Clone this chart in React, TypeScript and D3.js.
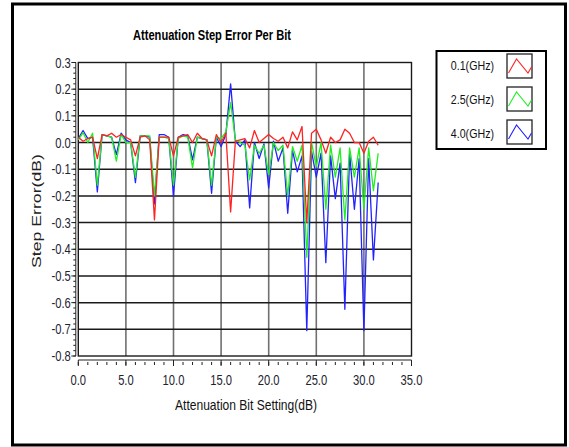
import React from 'react';
import * as d3 from 'd3';

// Attenuation settings (dB) in 0.5 dB steps
const settings = [
  0, 0.5, 1, 1.5, 2, 2.5, 3, 3.5, 4, 4.5, 5, 5.5, 6, 6.5, 7, 7.5,
  8, 8.5, 9, 9.5, 10, 10.5, 11, 11.5, 12, 12.5, 13, 13.5, 14, 14.5, 15, 15.5,
  16, 16.5, 17, 17.5, 18, 18.5, 19, 19.5, 20, 20.5, 21, 21.5, 22, 22.5, 23, 23.5,
  24, 24.5, 25, 25.5, 26, 26.5, 27, 27.5, 28, 28.5, 29, 29.5, 30, 30.5, 31, 31.5,
];

// Step error (dB) at 0.1 GHz
const err01 = [
  0.02, 0.005, 0.015, 0.02, -0.06, 0.03, 0.025, 0.035, 0.02, 0.03, 0.02, 0.01, -0.05, 0.02, 0.025, 0.01,
  -0.29, 0.02, 0.02, 0.02, -0.05, 0.02, 0.025, 0.03, 0.0, 0.035, 0.015, 0.01, -0.05, 0.03, 0.0, 0.035,
  -0.26, 0.005, 0.01, 0.015, -0.02, 0.045, 0.0, 0.015, 0.03, 0.015, 0.005, 0.02, -0.02, 0.04, 0.01, 0.06,
  -0.3, 0.035, 0.05, 0.01, -0.04, 0.02, 0.0, 0.01, 0.05, 0.035, 0.0, 0.0, -0.04, 0.005, 0.02, -0.01,
];

// Step error (dB) at 2.5 GHz
const err25 = [
  0.01, 0.037, 0.0, 0.035, -0.16, 0.03, 0.025, 0.02, -0.07, 0.03, 0.0, 0.0, -0.13, 0.025, 0.025, 0.025,
  -0.2, 0.02, 0.02, 0.015, -0.16, 0.015, 0.025, 0.02, -0.095, 0.02, 0.015, 0.01, -0.16, 0.02, 0.015, 0.04,
  0.15, 0.01, 0.0, -0.01, -0.14, -0.01, -0.04, -0.01, -0.12, 0.0, -0.03, -0.01, -0.2, -0.015, -0.07, -0.01,
  -0.43, 0.0, -0.09, 0.0, -0.25, -0.01, -0.13, -0.02, -0.29, -0.02, -0.13, -0.02, -0.25, -0.02, -0.18, -0.04,
];

// Step error (dB) at 4.0 GHz
const err40 = [
  0.015, 0.045, 0.015, 0.02, -0.185, 0.03, 0.025, 0.02, -0.045, 0.035, 0.01, 0.0, -0.15, 0.025, 0.025, 0.02,
  -0.23, 0.03, 0.03, 0.02, -0.2, 0.02, 0.03, 0.025, -0.065, 0.02, 0.015, 0.01, -0.19, 0.02, -0.015, 0.03,
  0.22, 0.005, -0.015, 0.01, -0.245, 0.0, -0.06, -0.005, -0.17, 0.005, -0.07, -0.02, -0.265, -0.03, -0.11, -0.05,
  -0.705, -0.033, -0.13, -0.04, -0.45, -0.05, -0.21, -0.077, -0.625, -0.04, -0.25, -0.06, -0.705, -0.06, -0.44, -0.15,
];

const seriesNames = ['0.1(GHz)', '2.5(GHz)', '4.0(GHz)'];
const seriesColors = ['#ff2222', '#22ee22', '#2222ff'];

const xTicks = [0, 5, 10, 15, 20, 25, 30, 35];
const yTicks = [0.3, 0.2, 0.1, 0, -0.1, -0.2, -0.3, -0.4, -0.5, -0.6, -0.7, -0.8];

const FONT = "'Liberation Sans', Arial, sans-serif";

export default function App() {
  const x = d3.scaleLinear().domain([0, 35]).range([78.3, 411.5]);
  const y = d3.scaleLinear().domain([-0.8, 0.3]).range([356, 62.5]);

  const series = [err01, err25, err40].map((vals, i) => ({
    name: seriesNames[i],
    color: seriesColors[i],
    points: settings.map((s, j) => [s, vals[j]] as [number, number]),
  }));

  const line = d3
    .line<[number, number]>()
    .x((d) => x(d[0]))
    .y((d) => y(d[1]));

  const xMinor = d3.range(0, 35.001, 1);
  const yMinor = d3.range(-0.8, 0.3001, 0.02);

  const [x0, x1] = x.range();
  const [y0, y1] = [y(0.3), y(-0.8)];
  const xAxisY = y1 + 4;
  const yAxisX = x0 - 2.5;

  // zig-zag icon inside each legend swatch
  const swatchPath = (bx: number, by: number, w: number, h: number) =>
    d3.line()([
      [bx + 1.5, by + h - 5],
      [bx + 9.5, by + 5],
      [bx + w - 4, by + h - 5],
      [bx + w - 0.5, by + h - 11],
    ]);

  const legendRows = [
    { top: 54, base: 69.5 },
    { top: 87, base: 103.5 },
    { top: 120, base: 137.5 },
  ];

  return (
    <svg
      width={569}
      height={447}
      style={{ position: 'absolute', left: 0, top: 0, background: '#fff' }}
      fontFamily={FONT}
    >
      {/* outer frame */}
      <rect x={12.5} y={4} width={553} height={441} fill="#fff" stroke="#000" strokeWidth={3} />

      {/* title */}
      <text x={133} y={39.5} fontSize={15.5} fontWeight="bold" textLength={158} lengthAdjust="spacingAndGlyphs" fill="#000">
        Attenuation Step Error Per Bit
      </text>

      {/* grid */}
      {xTicks.slice(1, -1).map((t) => (
        <line key={'gx' + t} x1={x(t)} x2={x(t)} y1={y0} y2={y1} stroke="#707070" strokeWidth={1.6} />
      ))}
      {yTicks.slice(1, -1).map((t) => (
        <line key={'gy' + t} x1={x0} x2={x1} y1={y(t)} y2={y(t)} stroke="#1a1a1a" strokeWidth={1.5} />
      ))}
      <rect x={x0} y={y0} width={x1 - x0} height={y1 - y0} fill="none" stroke="#1a1a1a" strokeWidth={1.4} />

      {/* data */}
      <g fill="none" strokeWidth={1.3} strokeLinejoin="round">
        {[2, 1, 0].map((i) => (
          <path key={series[i].name} d={line(series[i].points) || ''} stroke={series[i].color} />
        ))}
      </g>

      {/* y axis */}
      <line x1={yAxisX} x2={yAxisX} y1={y0} y2={y1} stroke="#222" strokeWidth={1} />
      {yMinor.map((t, i) => (
        <line key={'ym' + i} x1={yAxisX - 2.5} x2={yAxisX} y1={y(t)} y2={y(t)} stroke="#222" strokeWidth={1} />
      ))}
      {yTicks.map((t) => (
        <g key={'yt' + t}>
          <line x1={yAxisX - 4.5} x2={yAxisX} y1={y(t)} y2={y(t)} stroke="#222" strokeWidth={1} />
          <text
            transform={`translate(${yAxisX - 5},${y(t) + 5}) scale(0.8,1)`}
            textAnchor="end"
            fontSize={14}
            fill="#1c2430"
          >
            {t.toFixed(1)}
          </text>
        </g>
      ))}

      {/* x axis */}
      <line x1={x0} x2={x1} y1={xAxisY} y2={xAxisY} stroke="#222" strokeWidth={1} />
      {xMinor.map((t) => (
        <line key={'xm' + t} x1={x(t)} x2={x(t)} y1={xAxisY + 2} y2={xAxisY + 5} stroke="#222" strokeWidth={1} />
      ))}
      {xTicks.map((t) => (
        <g key={'xt' + t}>
          <line x1={x(t)} x2={x(t)} y1={xAxisY} y2={xAxisY + 6} stroke="#222" strokeWidth={1} />
          <text
            transform={`translate(${x(t)},385) scale(0.8,1)`}
            textAnchor="middle"
            fontSize={14}
            fill="#1c2430"
          >
            {t.toFixed(1)}
          </text>
        </g>
      ))}

      {/* axis titles */}
      <text x={175} y={410} fontSize={15} textLength={142} lengthAdjust="spacingAndGlyphs" fill="#111">
        Attenuation Bit Setting(dB)
      </text>
      <text
        transform="translate(41,268) rotate(-90)"
        fontSize={13}
        textLength={114}
        lengthAdjust="spacingAndGlyphs"
        fill="#222"
      >
        Step Error(dB)
      </text>

      {/* legend */}
      <rect x={436.5} y={51} width={109.5} height={98} fill="#fff" stroke="#000" strokeWidth={2} />
      {series.map((s, i) => {
        const r = legendRows[i];
        return (
          <g key={'lg' + s.name}>
            <text
              transform={`translate(494,${r.base}) scale(0.82,1)`}
              textAnchor="end"
              fontSize={13}
              fill="#111"
            >
              {s.name}
            </text>
            <rect x={507} y={r.top} width={25} height={24} fill="#fff" stroke="#222" strokeWidth={1.3} />
            <path d={swatchPath(507, r.top, 25, 24) || ''} fill="none" stroke={s.color} strokeWidth={1.1} />
          </g>
        );
      })}
    </svg>
  );
}
